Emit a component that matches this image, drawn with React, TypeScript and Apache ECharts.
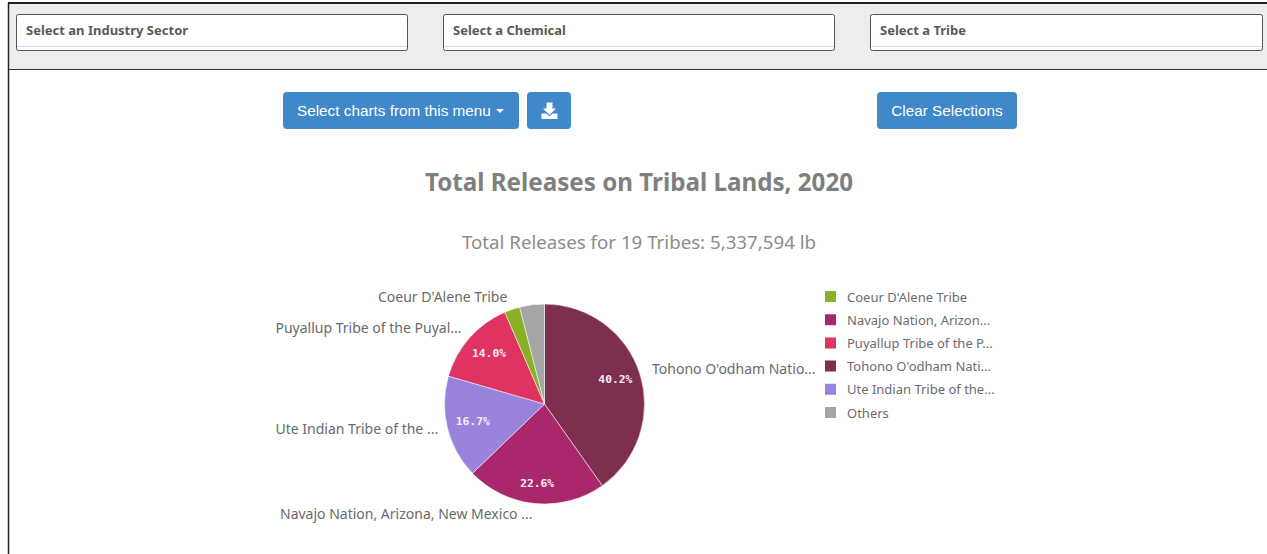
import React, { useEffect, useRef } from "react";
import * as echarts from "echarts";

const tribes = [
  "Tohono O'odham Natio...",
  "Navajo Nation, Arizona, New Mexico ...",
  "Ute Indian Tribe of the ...",
  "Puyallup Tribe of the Puyal...",
  "Coeur D'Alene Tribe",
  "Others",
];
const shares = [40.2, 22.6, 16.7, 14.0, 2.5, 4.0];
const colors = ["#7e2e4e", "#a9286c", "#9983dd", "#df3361", "#8ab026", "#a5a5a5"];
const legendOrder = [4, 1, 3, 0, 2, 5];
const legendTexts = [
  "Tohono O'odham Nati...",
  "Navajo Nation, Arizon...",
  "Ute Indian Tribe of the...",
  "Puyallup Tribe of the P...",
  "Coeur D'Alene Tribe",
  "Others",
];
const filterLabels = ["Select an Industry Sector", "Select a Chemical", "Select a Tribe"];
const titleText = "Total Releases on Tribal Lands, 2020";
const subtitleText = "Total Releases for 19 Tribes: 5,337,594 lb";

const UI_FONT = '"Noto Sans", sans-serif';
const BUTTON_FONT = '15.3px "Liberation Sans", sans-serif';
const PIE_CENTER = [544.5, 404];
const PIE_RADIUS = 100;

// Outer name labels sit where the dashboard's layout put them.
const outerLabelPlacement: Record<string, { x: number; y: number }> = {
  [tribes[0]]: { x: 652, y: 368 },
  [tribes[1]]: { x: 280, y: 513 },
  [tribes[2]]: { x: 275.5, y: 428 },
  [tribes[3]]: { x: 275.5, y: 327 },
  [tribes[4]]: { x: 378, y: 296.5 },
};

// Small nudges of the percentages away from the exact ring centre line.
const percentNudge: Record<string, { dx: number; dy: number }> = {
  [tribes[0]]: { dx: -3.5, dy: -0.5 },
  [tribes[1]]: { dx: 0, dy: 1.5 },
  [tribes[2]]: { dx: 4, dy: -1 },
  [tribes[3]]: { dx: 3, dy: 1 },
};

const DOWNLOAD_ICON =
  "M5 0 h6 v6 h3.5 l-6.5 6.5 l-6.5 -6.5 h3.5 z M0 11 h4.5 l3.5 2.8 l3.5 -2.8 h4.5 v5.5 H0 z";
echarts.graphic.registerShape("downloadIcon", echarts.graphic.extendPath(DOWNLOAD_ICON, {}));

const filterBox = (x: number, width: number, label: string) => ({
  type: "group",
  children: [
    { type: "rect", shape: { x: x + 0.5, y: 14.5, width, height: 36, r: 2 }, style: { fill: "#fff", stroke: "#555", lineWidth: 1 } },
    { type: "line", shape: { x1: x + 1, y1: 46.5, x2: x + width, y2: 46.5 }, style: { stroke: "#dcdcdc", lineWidth: 1 } },
    { type: "text", style: { x: x + 10, y: 29.5, text: label, font: `bold 13px ${UI_FONT}`, fill: "#595959", textVerticalAlign: "middle" } },
  ],
});

const button = (x: number, width: number) => ({
  type: "rect",
  shape: { x, y: 92, width, height: 37, r: 4 },
  style: { fill: "#3f88ca" },
});

const buildOption = () => ({
  animation: false,
  backgroundColor: "#fff",
  color: colors,
  legend: {
    left: 818,
    top: 284,
    orient: "vertical",
    itemWidth: 13,
    itemHeight: 13,
    itemGap: 8.2,
    icon: "rect",
    selectedMode: false,
    data: legendOrder.map((i) => tribes[i]),
    formatter: (name: string) => legendTexts[tribes.indexOf(name)],
    textStyle: { fontFamily: UI_FONT, fontSize: 13, lineHeight: 15, color: "#6b6b72", padding: [0, 0, 0, 5] },
  },
  graphic: [
    { type: "rect", shape: { x: 9, y: 3, width: 1258, height: 66 }, style: { fill: "#ededed" } },
    { type: "line", shape: { x1: 8, y1: 3, x2: 1267, y2: 3 }, style: { stroke: "#222", lineWidth: 2 } },
    { type: "line", shape: { x1: 9, y1: 69.5, x2: 1267, y2: 69.5 }, style: { stroke: "#333", lineWidth: 1 } },
    { type: "line", shape: { x1: 8.5, y1: 3, x2: 8.5, y2: 554 }, style: { stroke: "#222", lineWidth: 1.5 } },
    filterBox(16, 391, filterLabels[0]),
    filterBox(443, 391, filterLabels[1]),
    filterBox(870, 392, filterLabels[2]),
    button(283, 236),
    button(527, 44),
    button(877, 140),
    { type: "text", style: { x: 297, y: 110.5, text: "Select charts from this menu", font: BUTTON_FONT, fill: "#fff", textVerticalAlign: "middle" } },
    { type: "polygon", shape: { points: [[496, 109], [504, 109], [500, 113]] }, style: { fill: "#fff" } },
    { type: "downloadIcon", x: 541.5, y: 102.5, style: { fill: "#fff" } },
    { type: "text", style: { x: 947, y: 110.5, text: "Clear Selections", font: BUTTON_FONT, fill: "#fff", textAlign: "center", textVerticalAlign: "middle" } },
    { type: "text", style: { x: 639, y: 181, text: titleText, font: `bold 24.2px ${UI_FONT}`, fill: "#7f7f7f", textAlign: "center", textVerticalAlign: "middle" } },
    { type: "text", style: { x: 639, y: 241, text: subtitleText, font: `18.7px ${UI_FONT}`, fill: "#8c8c8c", textAlign: "center", textVerticalAlign: "middle" } },
  ],
  series: [
    {
      // Coloured wedges
      type: "pie",
      center: PIE_CENTER,
      radius: PIE_RADIUS,
      startAngle: 90,
      clockwise: true,
      silent: true,
      label: { show: false },
      labelLine: { show: false },
      itemStyle: { borderColor: "#fff", borderWidth: 0.5 },
      data: tribes.map((name, i) => ({ name, value: shares[i], itemStyle: { color: colors[i] } })),
    },
    {
      // Transparent ring that places the percentages at three quarters of the radius
      type: "pie",
      center: PIE_CENTER,
      radius: [PIE_RADIUS / 2, PIE_RADIUS],
      startAngle: 90,
      silent: true,
      itemStyle: { color: "transparent" },
      labelLine: { show: false },
      label: {
        show: true,
        position: "inside",
        fontFamily: '"DejaVu Sans Mono", monospace',
        fontSize: 11.3,
        fontWeight: "bold",
        color: "#f4eef2",
        formatter: (p: any) => (p.value >= 10 ? `${p.value.toFixed(1)}%` : ""),
      },
      labelLayout: (params: any) => percentNudge[tribes[params.dataIndex]] ?? {},
      data: tribes.map((name, i) => ({ name, value: shares[i] })),
    },
    {
      // Transparent pie carrying the tribe names outside the circle
      type: "pie",
      center: PIE_CENTER,
      radius: PIE_RADIUS,
      startAngle: 90,
      silent: true,
      itemStyle: { color: "transparent" },
      labelLine: { show: false },
      label: {
        show: true,
        position: "outside",
        fontFamily: UI_FONT,
        fontSize: 14,
        color: "#6a6a6a",
        formatter: (p: any) => (p.name === "Others" ? "" : p.name),
      },
      labelLayout: (params: any) => {
        const place = outerLabelPlacement[tribes[params.dataIndex]];
        return place ? { x: place.x, y: place.y, align: "left", verticalAlign: "middle", hideOverlap: false } : {};
      },
      data: tribes.map((name, i) => ({ name, value: shares[i] })),
    },
  ],
});

export default function App() {
  const ref = useRef<HTMLDivElement>(null);
  useEffect(() => {
    const chart = echarts.init(ref.current!, null, { renderer: "svg" });
    chart.setOption(buildOption() as any);
    return () => chart.dispose();
  }, []);
  return <div ref={ref} style={{ position: "fixed", left: 0, top: 0, width: 1267, height: 554 }} />;
}
